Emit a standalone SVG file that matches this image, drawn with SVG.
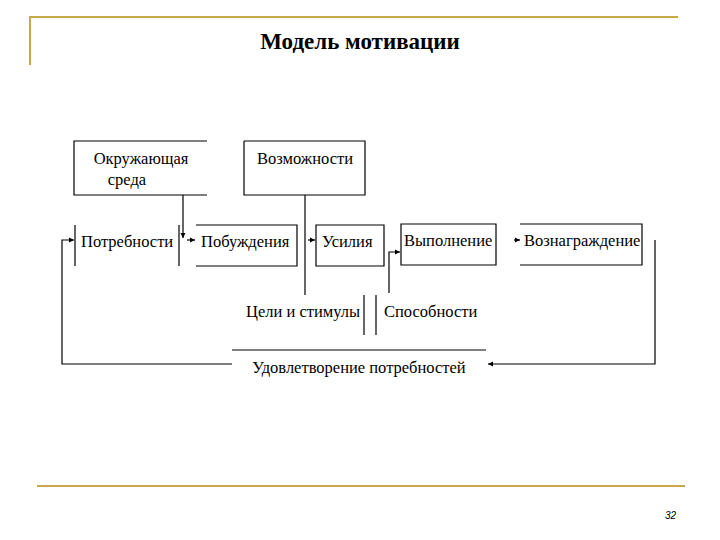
<svg xmlns="http://www.w3.org/2000/svg" width="720" height="540" viewBox="0 0 720 540">
<style>
.t{font-family:"Liberation Serif",serif;font-size:16.5px;fill:#000}
.l{stroke:#000;stroke-width:1.2;fill:none}
.g{stroke:#c8a94a;stroke-width:2;fill:none}
</style>
<defs><marker id="a" markerWidth="6" markerHeight="6" refX="5" refY="3" orient="auto" markerUnits="userSpaceOnUse"><path d="M0,0.5 L5,3 L0,5.5z" fill="#000"/></marker></defs>
<rect width="720" height="540" fill="#fff"/>
<path class="g" d="M30,65 V17 H678 M37,486 H685"/>
<text x="360" y="49" text-anchor="middle" font-family="Liberation Serif,serif" font-size="23" font-weight="bold">Модель мотивации</text>
<text x="676" y="519" text-anchor="end" font-family="Liberation Sans,sans-serif" font-size="10" font-style="italic">32</text>
<g id="env"><path class="l" d="M207,141 H74 V195 H207"/><text class="t" x="141" y="164" text-anchor="middle">Окружающая</text><text class="t" x="127" y="185" text-anchor="middle">среда</text></g>
<g id="opp"><path class="l" d="M244,141 H365 V195 H244 V141"/><text class="t" x="305" y="164" text-anchor="middle">Возможности</text></g>
<g id="needs"><path class="l" d="M75,225 V266 M179,225 V266"/><text class="t" x="81" y="247">Потребности</text></g>
<g id="motive"><path class="l" d="M196,225 H297 V266 H196"/><text class="t" x="201" y="247">Побуждения</text></g>
<g id="effort"><path class="l" d="M316,225 H384 V266 H316 Z"/><text class="t" x="322" y="247">Усилия</text></g>
<g id="perf"><path class="l" d="M401,224 H496 V265 H401 Z"/><text class="t" x="404" y="246">Выполнение</text></g>
<g id="reward"><path class="l" d="M520,224 H642 V265 H520"/><text class="t" x="524" y="246">Вознаграждение</text></g>
<g id="goals"><path class="l" d="M364,295 V335"/><text class="t" x="246" y="317">Цели и стимулы</text></g>
<g id="abil"><path class="l" d="M376,295 V335"/><text class="t" x="384" y="317">Способности</text></g>
<g id="sat"><path class="l" d="M232,350 H486"/><text class="t" x="359" y="373" text-anchor="middle">Удовлетворение потребностей</text></g>
<g id="connectors">
<path class="l" d="M183,195 V238" marker-end="url(#a)"/>
<path class="l" d="M305,195 V295"/>
<path class="l" d="M389,293 V252 H400" marker-end="url(#a)"/>
<path class="l" d="M232,364 H62 V240 H74" marker-end="url(#a)"/>
<path class="l" d="M655,240 V364 H488" marker-end="url(#a)"/>
<path class="l" d="M187,240 H195" marker-end="url(#a)"/>
<path class="l" d="M308,240 H315" marker-end="url(#a)"/>
<path class="l" d="M514,240 H520" marker-end="url(#a)"/>
</g>
</svg>
